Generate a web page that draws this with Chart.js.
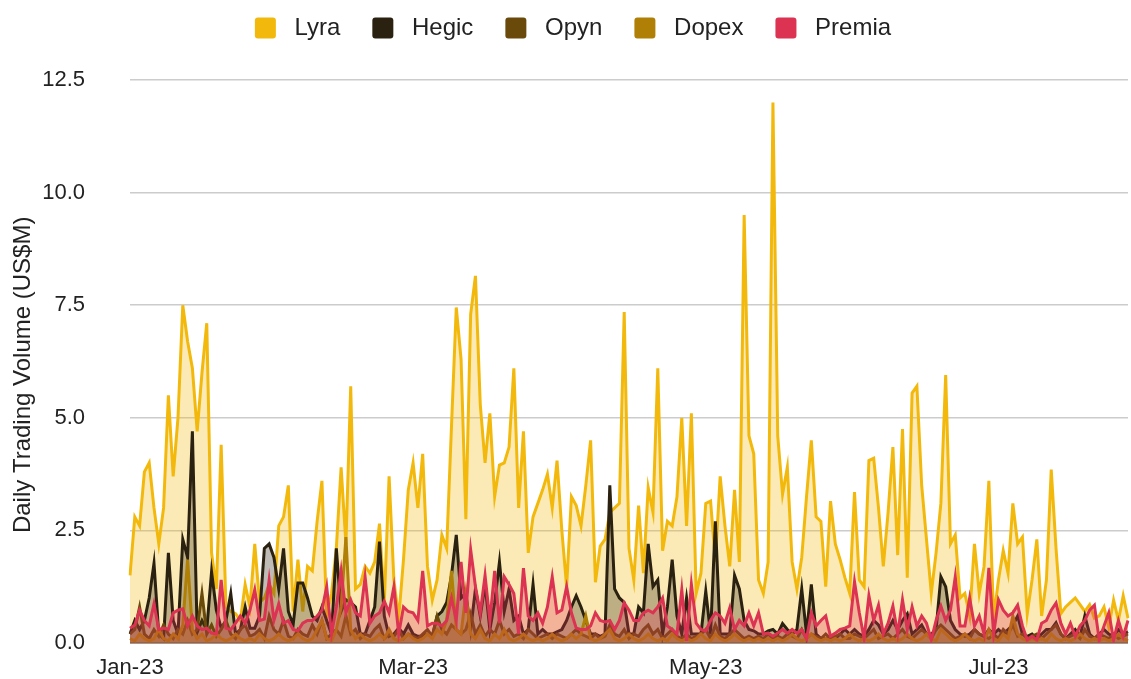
<!DOCTYPE html>
<html>
<head>
<meta charset="utf-8">
<title>Daily Trading Volume</title>
<script src="https://cdn.jsdelivr.net/npm/chart.js@4.4.1/dist/chart.umd.min.js"></script>
<style>
  html, body { margin: 0; padding: 0; background: #fff; }
</style>
</head>
<body>
<canvas id="chart" width="1131" height="679"></canvas>
<script>
// daily volume in US$M, one value per day from 1 Jan 2023
const startDate = Date.UTC(2023, 0, 1);
const tickDates = ['2023-01-01', '2023-03-01', '2023-05-01', '2023-07-01'];
const tickLabels = ['Jan-23', 'Mar-23', 'May-23', 'Jul-23'];
const yTicks = [0, 2.5, 5, 7.5, 10, 12.5];

const lyra = [
  1.5, 2.8, 2.6, 3.8, 4.0, 3.0, 2.2, 3.0, 5.5, 3.7,
  5.0, 7.5, 6.7, 6.1, 4.7, 6.0, 7.1, 2.0, 1.2, 4.4,
  0.8, 0.7, 0.65, 0.5, 1.3, 0.8, 2.2, 0.9, 1.0, 1.3,
  1.1, 2.6, 2.8, 3.5, 0.7, 1.85, 0.7, 1.7, 1.6, 2.7,
  3.6, 0.6, 1.1, 2.1, 3.9, 2.2, 5.7, 1.2, 1.3, 1.7,
  1.55, 1.8, 2.65, 0.9, 3.7, 1.4, 0.55, 1.85, 3.4, 4.0,
  3.0, 4.2, 1.7, 0.95, 1.4, 2.4, 2.1, 4.8, 7.45, 6.3,
  2.75, 7.3, 8.15, 5.3, 4.0, 5.1, 3.25, 3.95, 4.0, 4.35,
  6.1, 3.0, 4.7, 2.0, 2.8, 3.1, 3.4, 3.75, 3.0, 4.05,
  2.5, 1.25, 3.25, 3.05, 2.6, 3.5, 4.5, 1.35, 2.15, 2.3,
  2.9, 3.0, 3.1, 7.35, 2.1, 1.4, 3.05, 1.55, 3.45, 2.9,
  6.1, 2.05, 2.7, 2.6, 3.25, 5.0, 2.6, 5.1, 1.1, 1.55,
  3.1, 3.15, 1.8, 3.7, 2.6, 1.7, 3.4, 1.8, 9.5, 4.6,
  4.2, 1.4, 1.1, 1.8, 12.0, 4.6, 3.3, 3.9, 1.8, 1.2,
  1.9, 3.25, 4.5, 2.8, 2.7, 1.25, 3.15, 2.2, 1.85, 1.45,
  1.1, 3.35, 1.4, 1.25, 4.05, 4.1, 3.0, 1.7, 2.9, 4.35,
  1.95, 4.75, 1.45, 5.55, 5.7, 3.5, 2.3, 1.1, 2.0, 3.1,
  5.95, 2.2, 2.4, 1.0, 1.1, 0.6, 2.2, 1.1, 1.7, 3.6,
  0.55, 1.4, 2.05, 1.55, 3.1, 2.2, 2.35, 0.65, 1.4, 2.3,
  0.6, 1.4, 3.85, 2.1, 0.65, 0.8, 0.9, 1.0, 0.85, 0.7,
  0.85, 0.55, 0.6, 0.8, 0.35, 0.95, 0.5, 1.05, 0.55
];

const hegic = [
  0.2, 0.5, 0.3, 0.5, 1.0, 1.77, 0.2, 0.1, 2.0, 0.5,
  0.2, 2.3, 1.9, 4.7, 0.24, 0.5, 0.3, 1.58, 0.73, 0.33,
  0.5, 1.1, 0.2, 0.3, 0.8, 0.33, 0.33, 0.6, 2.1, 2.2,
  1.9, 1.2, 2.1, 0.7, 0.4, 1.33, 1.33, 1.0, 0.6, 0.5,
  0.8, 0.5, 0.2, 2.1, 0.7, 0.96, 0.9, 0.8, 0.2, 0.2,
  0.5, 0.8, 2.25, 0.6, 0.15, 0.2, 0.33, 0.2, 0.4, 0.2,
  0.15, 0.15, 0.2, 0.15, 0.6, 0.7, 0.9, 1.5, 2.4, 1.0,
  1.1, 0.3, 1.2, 0.6, 1.3, 0.3, 0.9, 1.8, 0.7, 1.2,
  0.5, 0.6, 0.2, 0.3, 1.3, 0.2, 0.3, 0.2, 0.2, 0.25,
  0.3, 0.5, 0.8, 1.05, 0.8, 0.5, 0.2, 0.2, 0.15, 0.2,
  3.5, 1.2, 1.0, 0.9, 0.2, 0.2, 0.8, 0.67, 2.2, 1.25,
  1.4, 0.2, 0.8, 1.85, 0.6, 0.2, 1.0, 0.2, 0.2, 0.2,
  1.15, 0.2, 2.7, 0.2, 0.2, 0.2, 1.5, 1.2, 0.5, 0.3,
  0.27, 0.2, 0.2, 0.27, 0.3, 0.2, 0.43, 0.3, 0.2, 0.3,
  1.2, 0.2, 1.3, 0.2, 0.1, 0.1, 0.15, 0.1, 0.2, 0.3,
  0.2, 0.3, 0.2, 0.15, 0.3, 0.5, 0.4, 0.2, 0.3, 0.5,
  0.3, 0.5, 0.65, 0.2, 0.3, 0.4, 0.2, 0.2, 0.3, 1.47,
  1.25, 0.5, 0.3, 0.2, 0.15, 0.2, 0.3, 0.2, 0.15, 0.3,
  0.2, 0.3, 0.2, 0.3, 0.4, 0.6, 0.2, 0.15, 0.2, 0.1,
  0.2, 0.3, 0.3, 0.45, 0.2, 0.1, 0.2, 0.3, 0.15, 0.6,
  0.2, 0.1, 0.2, 0.3, 0.2, 0.15, 0.3, 0.2, 0.25
];

const opyn = [
  0.2, 0.3, 0.8, 0.2, 0.1, 0.3, 0.15, 0.4, 0.2, 0.1,
  0.3, 0.2, 0.5, 0.2, 0.3, 1.1, 0.2, 0.4, 0.15, 0.3,
  0.5, 0.2, 0.1, 0.3, 0.4, 0.15, 0.2, 0.3, 0.1, 0.6,
  0.3, 0.2, 0.5, 0.15, 0.1, 0.3, 0.2, 0.15, 0.4, 0.2,
  0.5, 0.1, 0.2, 0.3, 0.15, 0.6, 0.2, 0.3, 0.1, 0.2,
  0.15, 0.3, 0.4, 0.1, 0.2, 0.15, 0.3, 0.1, 0.2, 0.15,
  0.1, 0.2, 0.3, 0.15, 0.6, 0.3, 0.2, 0.4, 0.3, 0.2,
  0.3, 0.65, 0.2, 0.4, 0.15, 0.3, 0.2, 0.5, 0.2, 0.3,
  0.15, 0.2, 0.1, 0.3, 0.2, 0.1, 0.15, 0.2, 0.1, 0.2,
  0.15, 0.1, 0.2, 0.3, 0.2, 0.15, 0.1, 0.2, 0.1, 0.15,
  0.4, 0.2, 0.15, 0.3, 0.1, 0.2, 0.15, 0.3, 0.4, 0.2,
  0.3, 0.1, 0.2, 0.3, 0.15, 0.1, 0.2, 0.1, 0.15, 0.2,
  0.3, 0.1, 0.4, 0.15, 0.1, 0.2, 0.3, 0.2, 0.1, 0.15,
  0.1, 0.15, 0.1, 0.2, 0.1, 0.15, 0.1, 0.2, 0.15, 0.1,
  0.3, 0.1, 0.2, 0.15, 0.1, 0.2, 0.1, 0.15, 0.2, 0.1,
  0.1, 0.2, 0.15, 0.1, 0.2, 0.3, 0.1, 0.15, 0.2, 0.1,
  0.2, 0.3, 0.15, 0.1, 0.2, 0.3, 0.2, 0.1, 0.3, 0.4,
  0.3, 0.2, 0.1, 0.15, 0.2, 0.1, 0.3, 0.2, 0.15, 0.1,
  0.2, 0.1, 0.3, 0.2, 0.4, 0.15, 0.2, 0.1, 0.15, 0.2,
  0.1, 0.2, 0.3, 0.4, 0.2, 0.1, 0.15, 0.2, 0.1, 0.3,
  0.15, 0.1, 0.2, 0.15, 0.1, 0.2, 0.1, 0.15, 0.2
];

const dopex = [
  0.1, 0.05, 0.2, 0.1, 0.05, 0.1, 0.3, 0.1, 0.05, 0.2,
  0.1, 0.4, 1.85, 0.3, 0.1, 0.2, 0.05, 0.1, 0.2, 0.1,
  0.05, 0.1, 0.2, 0.1, 0.05, 0.1, 0.05, 0.2, 0.1, 0.05,
  0.1, 0.2, 0.1, 0.05, 0.1, 0.2, 0.1, 0.05, 0.1, 0.3,
  0.5, 0.1, 0.05, 0.3, 0.8, 2.35, 0.3, 0.1, 0.2, 0.1,
  0.05, 0.1, 0.2, 0.1, 0.3, 0.1, 0.05, 0.1, 0.2, 0.1,
  0.05, 0.1, 0.2, 0.1, 0.3, 0.2, 0.5, 1.6, 0.3, 0.2,
  1.1, 0.2, 0.1, 0.3, 0.1, 0.05, 0.2, 0.1, 0.3, 0.1,
  0.05, 0.1, 0.2, 0.1, 0.05, 0.1, 0.05, 0.1, 0.2, 0.1,
  0.05, 0.1, 0.2, 0.1, 0.2, 0.6, 0.1, 0.05, 0.1, 0.2,
  0.3, 0.1, 0.05, 0.1, 0.2, 0.1, 0.05, 0.1, 0.2, 0.1,
  0.05, 0.1, 0.05, 0.2, 0.1, 0.05, 0.1, 0.05, 0.1, 0.2,
  0.1, 0.05, 0.2, 0.1, 0.05, 0.1, 0.2, 0.1, 0.05, 0.1,
  0.05, 0.1, 0.05, 0.1, 0.05, 0.1, 0.05, 0.1, 0.2, 0.1,
  0.05, 0.1, 0.2, 0.1, 0.05, 0.1, 0.05, 0.1, 0.05, 0.1,
  0.2, 0.1, 0.05, 0.1, 0.05, 0.1, 0.2, 0.1, 0.05, 0.1,
  0.05, 0.1, 0.2, 0.1, 0.05, 0.1, 0.2, 0.1, 0.05, 0.3,
  0.2, 0.1, 0.05, 0.1, 0.2, 0.1, 0.05, 0.1, 0.05, 0.3,
  0.1, 0.05, 0.2, 0.1, 0.6, 0.2, 0.1, 0.05, 0.1, 0.05,
  0.1, 0.05, 0.2, 0.1, 0.05, 0.1, 0.05, 0.1, 0.2, 0.1,
  0.05, 0.1, 0.05, 0.1, 0.05, 0.1, 0.2, 0.1, 0.05
];

const premia = [
  0.33, 0.4, 0.73, 0.5, 0.38, 0.87, 0.3, 0.33, 0.3, 0.67,
  0.73, 0.76, 0.38, 0.6, 0.38, 0.3, 0.33, 0.22, 0.2, 1.4,
  0.33, 0.3, 0.44, 0.6, 0.44, 0.73, 1.18, 0.5, 0.53, 1.4,
  0.5, 0.87, 0.44, 0.5, 0.3, 0.27, 0.44, 0.5, 0.5, 0.6,
  0.73, 1.25, 0.2, 0.8, 1.6, 0.67, 0.96, 0.67, 0.6, 1.47,
  0.44, 0.6, 0.67, 0.93, 0.67, 1.25, 0.2, 0.8, 0.7, 0.67,
  0.5, 1.6, 0.38, 0.44, 0.44, 0.38, 0.5, 1.0, 0.5, 1.8,
  0.67, 2.07, 1.25, 0.67, 1.5, 0.5, 1.6, 0.44, 1.47, 1.3,
  1.1, 0.2, 1.66, 0.6, 0.5, 0.67, 0.44, 0.8, 1.47, 0.67,
  0.73, 1.25, 0.67, 0.33, 0.3, 0.3, 0.38, 0.67, 0.5, 0.47,
  0.5, 0.3, 0.5, 0.89, 0.73, 0.5, 0.5, 0.67, 0.73, 0.67,
  0.8, 1.0, 0.38, 0.3, 0.2, 1.18, 0.05, 1.3, 0.44, 0.3,
  0.27, 0.5, 0.67, 0.6, 0.44, 0.78, 0.3, 0.5, 0.38, 0.67,
  0.38, 0.67, 0.2, 0.22, 0.15, 0.22, 0.3, 0.22, 0.3, 0.22,
  0.3, 0.1, 0.67, 0.38, 0.5, 0.6, 0.15, 0.22, 0.3, 0.33,
  0.38, 1.36, 0.67, 0.1, 1.05, 0.5, 0.84, 0.2, 0.44, 0.82,
  0.2, 0.96, 0.3, 0.8, 0.38, 0.6, 0.44, 0.07, 0.5, 0.82,
  0.5, 0.73, 1.47, 0.38, 0.38, 1.0, 0.38, 0.6, 0.2, 1.67,
  0.2, 0.96, 0.73, 0.6, 0.67, 0.84, 0.38, 0.07, 0.15, 0.07,
  0.44, 0.5, 0.73, 0.89, 0.44, 0.2, 0.44, 0.15, 0.38, 0.5,
  0.73, 0.84, 0.07, 0.38, 0.67, 0.07, 0.5, 0.15, 0.5
];

// category labels: one ISO date per data point
const days = [];
for (let i = 0; i < lyra.length; i++) {
  days.push(new Date(startDate + i * 86400000).toISOString().slice(0, 10));
}

const FONT = "'Liberation Sans', Arial, sans-serif";

function series(label, data, line, fill, order) {
  return {
    label: label,
    data: data,
    borderColor: line,
    backgroundColor: fill,
    borderWidth: 3,
    pointRadius: 0,
    tension: 0,
    fill: 'origin',
    order: order
  };
}

// make the legend end where the plot starts
const legendHeight = {
  id: 'legendHeight',
  beforeLayout(chart) {
    const lg = chart.legend;
    if (lg && !lg._patched) {
      const fit = lg.fit;
      lg.fit = function () {
        fit.call(this);
        this.height = 96;
      };
      lg._patched = true;
    }
  }
};

new Chart(document.getElementById('chart'), {
  type: 'line',
  data: {
    labels: days,
    datasets: [
      series('Lyra', lyra, '#f2b90c', 'rgba(242,185,12,0.3)', 5),
      series('Hegic', hegic, '#2a2110', 'rgba(42,33,16,0.3)', 4),
      series('Opyn', opyn, '#6a4a0b', 'rgba(106,74,11,0.3)', 3),
      series('Dopex', dopex, '#b07f05', 'rgba(176,127,5,0.3)', 2),
      series('Premia', premia, '#dc3352', 'rgba(220,51,82,0.3)', 1)
    ]
  },
  plugins: [legendHeight],
  options: {
    responsive: false,
    animation: false,
    // left padding only nudges the centred legend; the y axis width makes up for it
    layout: { padding: { top: -16, right: 3, left: 18, bottom: 0 } },
    plugins: {
      tooltip: { enabled: false },
      legend: {
        position: 'top',
        align: 'center',
        labels: {
          font: { family: FONT, size: 24 },
          color: '#222',
          boxWidth: 21,
          boxHeight: 21,
          useBorderRadius: true,
          borderRadius: 3,
          padding: 32,
          sort: (a, b) => a.datasetIndex - b.datasetIndex,
          generateLabels(chart) {
            const items = Chart.defaults.plugins.legend.labels.generateLabels(chart);
            items.forEach(it => {
              it.fillStyle = it.strokeStyle;
              it.lineWidth = 0;
              it.text = ' ' + it.text;
            });
            return items;
          }
        }
      }
    },
    scales: {
      x: {
        type: 'category',
        grid: { display: false, drawTicks: false },
        border: { display: false },
        afterFit(scale) {
          scale.height = 36;
          scale.paddingLeft = 0;
          scale.paddingRight = 0;
        },
        ticks: {
          autoSkip: false,
          maxRotation: 0,
          minRotation: 0,
          padding: 12,
          color: '#222',
          font: { family: FONT, size: 22 },
          callback(value, index) {
            const k = tickDates.indexOf(days[index]);
            return k >= 0 ? tickLabels[k] : '';
          }
        }
      },
      y: {
        min: 0,
        max: 12.5,
        afterFit(scale) {
          scale.width = 112;
          scale.paddingTop = 0;
          scale.paddingBottom = 0;
        },
        afterBuildTicks(scale) {
          scale.ticks = yTicks.map(v => ({ value: v }));
        },
        border: { display: false },
        grid: {
          drawTicks: false,
          color: ctx => (ctx.tick && ctx.tick.value === 0 ? '#9a9a9a' : '#cccccc'),
          lineWidth: ctx => (ctx.tick && ctx.tick.value === 0 ? 2 : 1.5)
        },
        ticks: {
          padding: 45,
          color: '#222',
          font: { family: FONT, size: 22 },
          callback: v => Number(v).toFixed(1)
        },
        title: {
          display: true,
          text: 'Daily Trading Volume (US$M)    ',
          color: '#222',
          font: { family: FONT, size: 24 },
          padding: { top: -9, bottom: 0 }
        }
      }
    }
  }
});
</script>
</body>
</html>
